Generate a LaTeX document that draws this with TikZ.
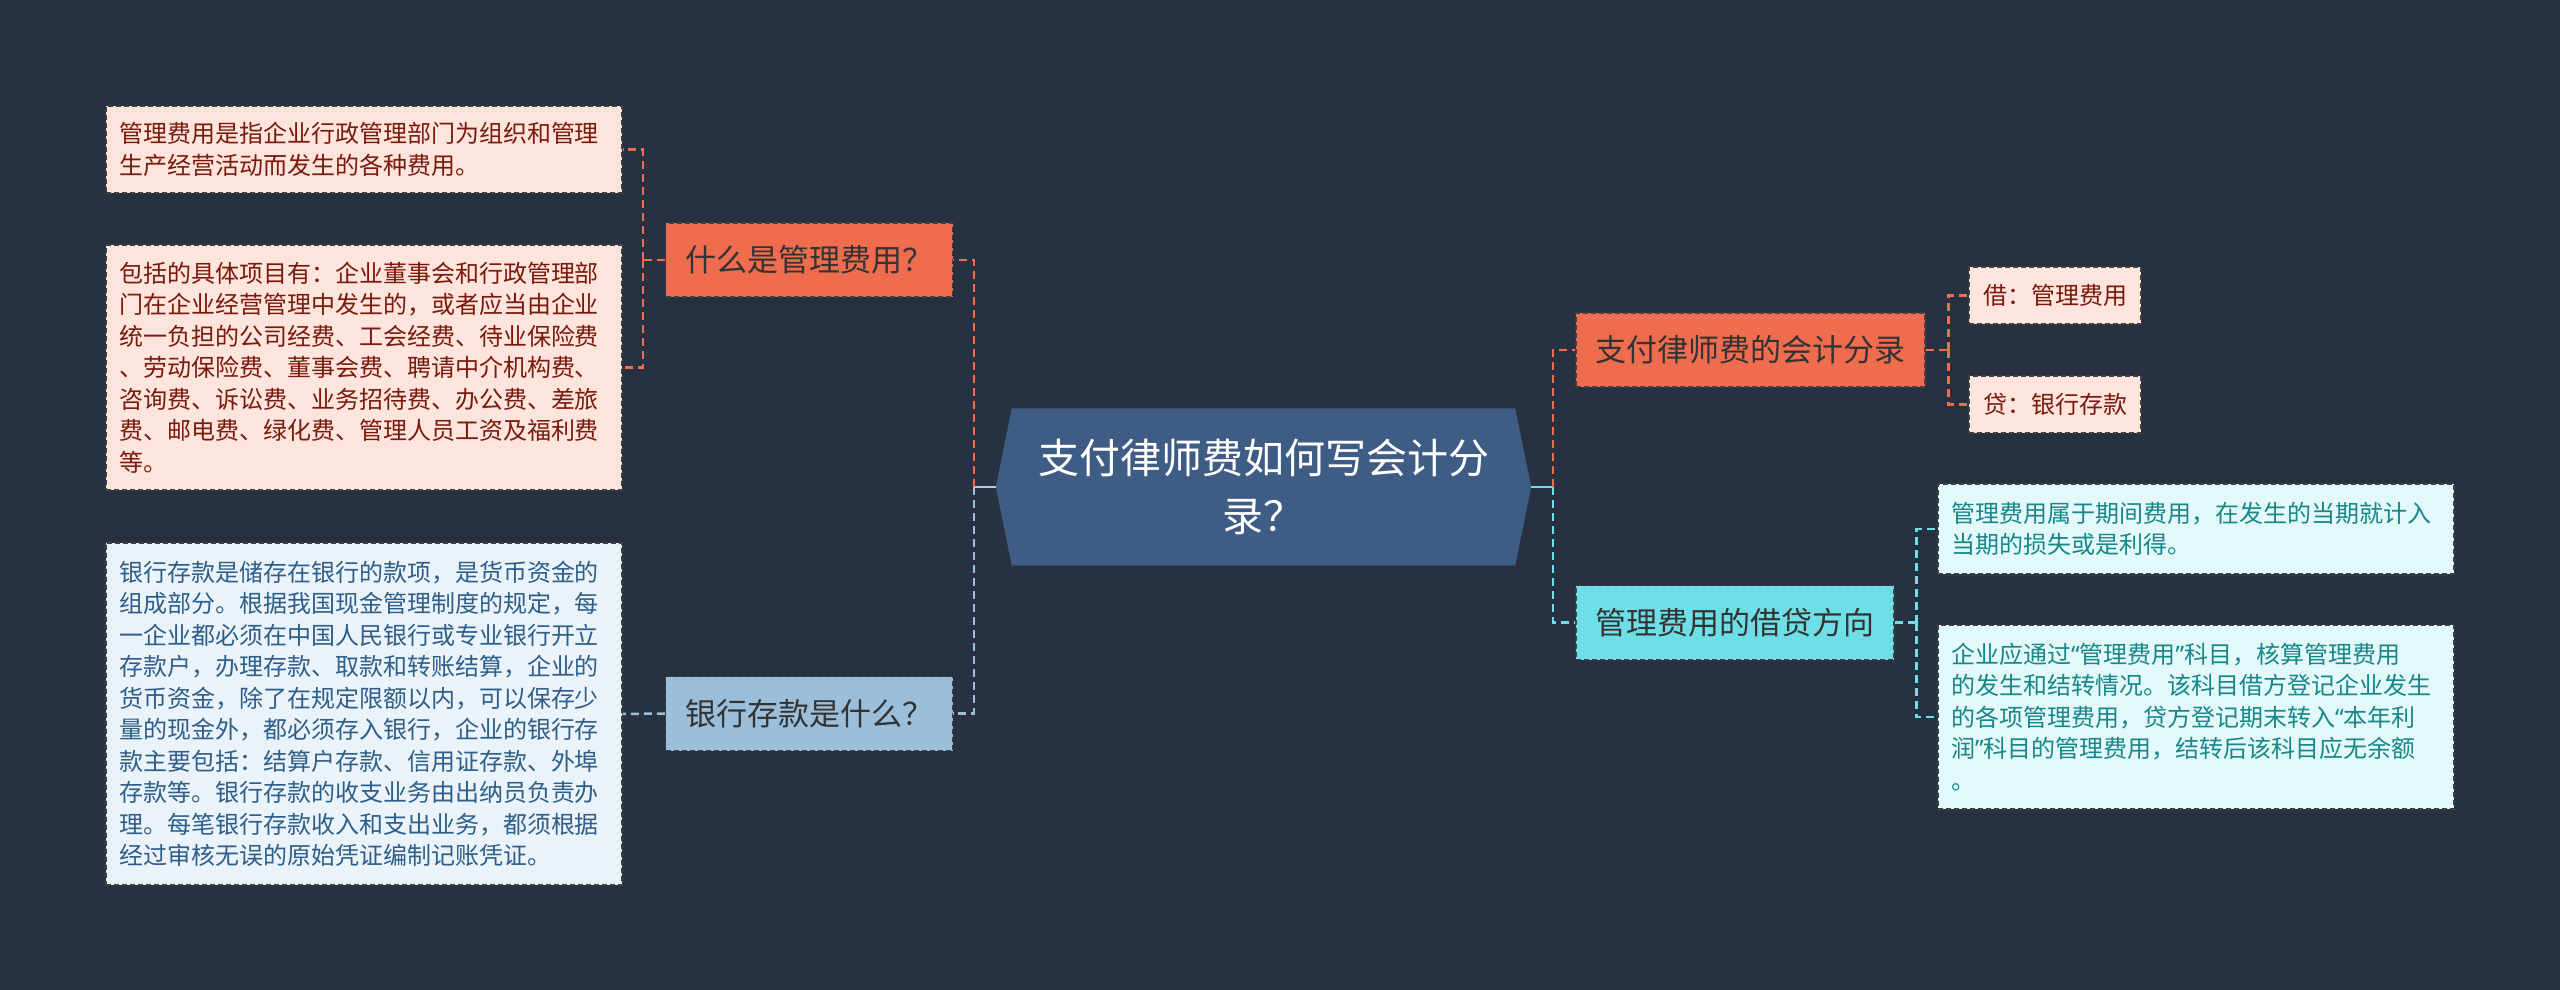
\documentclass[tikz,border=0pt]{standalone}
\usepackage{fontspec}
\newfontfamily\cjk{Noto Sans CJK SC}
\newfontfamily\qf{Noto Sans}
\newcommand{\myLq}{{\qf “}}
\newcommand{\myRq}{{\qf ”}}
\usetikzlibrary{calc}
\definecolor{bgc}{HTML}{283141}
\definecolor{hexc}{HTML}{3E5C84}
\definecolor{oran}{HTML}{EF6C4E}
\definecolor{leafO}{HTML}{FDE4DC}
\definecolor{leafOt}{HTML}{7A1A0C}
\definecolor{bluec}{HTML}{9BBFDA}
\definecolor{leafB}{HTML}{EAF3F9}
\definecolor{leafBt}{HTML}{2E5E8A}
\definecolor{cyanc}{HTML}{6EDFE6}
\definecolor{leafC}{HTML}{E3F8F8}
\definecolor{leafCt}{HTML}{17878A}
\definecolor{darkt}{HTML}{333333}
\pgfdeclarelayer{background}
\pgfsetlayers{background,main}
\begin{document}
\begin{tikzpicture}[x=1pt,y=-1pt,
  boxborder/.style={draw=black!75, line width=1.2pt, dash pattern=on 5pt off 3pt},
  leafbase/.style={boxborder, font=\cjk\fontsize{24}{31.5}\selectfont, text width=490pt, align=left, inner xsep=13pt, inner ysep=0pt},
  leafo/.style={leafbase, fill=leafO, text=leafOt},
  leafb/.style={leafbase, fill=leafB, text=leafBt},
  leafc/.style={leafbase, fill=leafC, text=leafCt},
  smallo/.style={boxborder, fill=leafO, text=leafOt, font=\cjk\fontsize{24}{31.5}\selectfont, inner xsep=14pt, inner ysep=0pt, minimum height=57pt},
  lone/.style={boxborder, text=darkt, font=\cjk\fontsize{31}{37}\selectfont, inner xsep=19.5pt, inner ysep=0pt, minimum height=74pt},
  conn/.style={line width=2.5pt, dash pattern=on 8pt off 5pt},
  conno/.style={conn, draw=oran},
  connb/.style={conn, draw=bluec},
  connc/.style={conn, draw=cyanc}
]
\useasboundingbox (0,0) rectangle (2560,990);
\begin{pgfonlayer}{background}
\fill[bgc] (0,0) rectangle (2560,990);
\end{pgfonlayer}

% central node
\node[text=white, font=\cjk\fontsize{41}{58}\selectfont, align=center, minimum width=535pt, minimum height=157pt, inner sep=0pt] (c) at (1263.5,487) {支付律师费如何写会计分\\录？};
\begin{pgfonlayer}{background}
\fill[hexc] (c.west) -- ([xshift=16pt]c.north west) -- ([xshift=-16pt]c.north east) -- (c.east) -- ([xshift=-16pt]c.south east) -- ([xshift=16pt]c.south west) -- cycle;
\end{pgfonlayer}

% left branches
\node[lone, fill=oran] (q1) at (809,260) {什么是管理费用？};
\node[lone, fill=bluec] (q2) at (809,713.5) {银行存款是什么？};

\node[leafo, minimum height=87pt] (L1) at (364,149.5) {管理费用是指企业行政管理部门为组织和管理\\生产经营活动而发生的各种费用。};
\node[leafo, minimum height=245pt] (L2) at (364,367.5) {包括的具体项目有：企业董事会和行政管理部\\门在企业经营管理中发生的，或者应当由企业\\统一负担的公司经费、工会经费、待业保险费\\、劳动保险费、董事会费、聘请中介机构费、\\咨询费、诉讼费、业务招待费、办公费、差旅\\费、邮电费、绿化费、管理人员工资及福利费\\等。};
\node[leafb, minimum height=342pt] (L3) at (364,714) {银行存款是储存在银行的款项，是货币资金的\\组成部分。根据我国现金管理制度的规定，每\\一企业都必须在中国人民银行或专业银行开立\\存款户，办理存款、取款和转账结算，企业的\\货币资金，除了在规定限额以内，可以保存少\\量的现金外，都必须存入银行，企业的银行存\\款主要包括：结算户存款、信用证存款、外埠\\存款等。银行存款的收支业务由出纳员负责办\\理。每笔银行存款收入和支出业务，都须根据\\经过审核无误的原始凭证编制记账凭证。};

% right branches
\node[lone, fill=oran] (r1) at (1750.5,350) {支付律师费的会计分录};
\node[lone, fill=cyanc] (r2) at (1735,622.5) {管理费用的借贷方向};

\node[smallo] (d1) at (2055,295.5) {借：管理费用};
\node[smallo] (d2) at (2055,404.5) {贷：银行存款};

\node[leafc, minimum height=90pt] (Ra) at (2196,529) {管理费用属于期间费用，在发生的当期就计入\\当期的损失或是利得。};
\node[leafc, minimum height=184pt] (Rb) at (2196,717) {企业应通过\myLq 管理费用\myRq 科目，核算管理费用\\的发生和结转情况。该科目借方登记企业发生\\的各项管理费用，贷方登记期末转入\myLq 本年利\\润\myRq 科目的管理费用，结转后该科目应无余额\\。};

% connectors left
\draw[line width=2.5pt, draw=bluec!80!white] (c.west) -- ++(-22,0) coordinate (lj);
\draw[conno] (lj) |- (q1.east);
\draw[connb] (lj) |- (q2.east);
\draw[conno] (q1.west) -- ++(-22,0) coordinate (b1);
\draw[conno] (b1) |- (L1.east);
\draw[conno] (b1) |- (L2.east);
\draw[connb] (q2.west) -- (L3.east);

% connectors right
\draw[line width=2.5pt, draw=cyanc] (c.east) -- ++(22,0) coordinate (rj);
\draw[conno] (rj) |- (r1.west);
\draw[connc] (rj) |- (r2.west);
\draw[conno] (r1.east) -- ++(23,0) coordinate (b2);
\draw[conno] (b2) |- (d1.west);
\draw[conno] (b2) |- (d2.west);
\draw[connc] (r2.east) -- ++(22,0) coordinate (b3);
\draw[connc] (b3) |- (Ra.west);
\draw[connc] (b3) |- (Rb.west);
\end{tikzpicture}
\end{document}
